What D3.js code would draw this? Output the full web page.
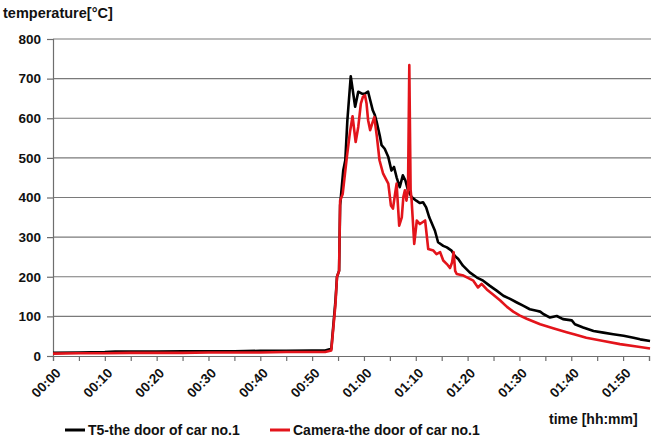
<!DOCTYPE html>
<html>
<head>
<meta charset="utf-8">
<script src="https://cdn.jsdelivr.net/npm/d3@7"></script>
<style>
  body { margin: 0; background: #fff; }
  svg { display: block; font-family: "Liberation Sans", Arial, sans-serif; font-weight: bold; }
</style>
</head>
<body>
<div id="chart"></div>
<script>
//svg dims
var width = 651;
var height = 437;
var margin = { left: 53, right: 0, top: 39, bottom: 82 };

//time axis: minutes and labels
var tickMinutes = [0, 5, 10, 15, 20, 25, 30, 35, 40, 45, 50, 55, 60, 65, 70, 75, 80, 85, 90, 95, 100, 105, 110, 115];
var tickLabels = ["00:00", "00:10", "00:20", "00:30", "00:40", "00:50", "01:00", "01:10", "01:20", "01:30", "01:40", "01:50"];
var yTicks = [0, 100, 200, 300, 400, 500, 600, 700, 800];

//T5 thermocouple - minutes / temperature
var t5Time = [0, 5, 10, 12, 15, 20, 25, 30, 35, 40, 45, 50, 52.5, 53.7, 54.5, 54.8, 55.2, 55.4, 56.0, 56.4, 56.8, 57.45,
  58.3, 58.9, 59.6, 60.2, 60.8, 61.2, 61.7, 62.1, 62.45, 63.1, 63.4, 64.0, 64.7, 65.3, 65.8, 66.3, 66.9, 67.5, 68.0,
  68.5, 69.2, 70.1, 70.8, 71.4, 72.0, 72.6, 73.7, 74.3, 75.3, 76.0, 76.9, 77.5, 78.2, 79.1, 80.4, 81.8, 83.0, 84.3,
  85.6, 86.9, 88.2, 89.5, 90.7, 92.0, 93.3, 94.0, 94.6, 95.9, 97.2, 98.4, 100.1, 100.7, 102.3, 104.3, 106.2, 108.1,
  110.1, 112.0, 113.3, 115.2];
var t5Temp = [8, 9, 10, 11, 11, 11, 12, 12, 12, 13, 13, 14, 14, 18, 139, 200, 215, 380, 468, 494, 595, 706,
  629, 667, 662, 662, 667, 646, 620, 608, 591, 553, 532, 523, 502, 468, 477, 451, 426, 456, 443,
  418, 401, 392, 386, 388, 375, 350, 316, 287, 278, 274, 266, 253, 245, 228, 211, 198, 190, 177,
  165, 152, 144, 135, 127, 118, 114, 112, 106, 97, 101, 93, 90, 80, 72, 63, 59, 55,
  51, 46, 42, 38];

//thermal camera - minutes / temperature
var camTime = [0, 5, 10, 15, 20, 25, 30, 35, 40, 45, 50, 52.5, 53.7, 54.5, 54.8, 55.2, 55.4, 55.9, 56.7, 57.3, 57.8,
  58.4, 58.9, 59.4, 59.8, 60.2, 60.5, 60.8, 61.2, 61.6, 62.0, 62.5, 63.0, 63.7, 64.7, 65.2, 65.6, 66.0, 66.3, 66.8,
  67.3, 67.6, 67.9, 68.2, 68.5, 68.75, 69.0, 69.2, 69.7, 70.2, 70.8, 71.8, 72.4, 73.4, 74.0, 74.7, 75.3, 76.0, 76.6,
  77.0, 77.3, 77.6, 77.9, 79.2, 81.1, 82.0, 82.7, 83.7, 84.9, 86.3, 87.6, 88.8, 90.1, 91.4, 92.7, 94.0, 96.5, 99.1,
  100.7, 102.9, 106.2, 109.4, 112.6, 115.2];
var camTemp = [6, 7, 7, 8, 8, 8, 9, 9, 9, 10, 10, 10, 14, 130, 200, 215, 392, 409, 502, 565, 605,
  540, 578, 637, 654, 658, 637, 595, 570, 587, 603, 553, 494, 460, 435, 380, 372, 409, 435, 329,
  350, 401, 418, 392, 420, 734, 420, 392, 283, 342, 333, 342, 270, 266, 257, 262, 241, 232, 222,
  236, 262, 215, 207, 203, 190, 173, 182, 168, 155, 140, 124, 112, 102, 94, 87, 80, 70, 60,
  54, 46, 38, 30, 24, 19];

var series = [
  { name: "T5-the door of car no.1", color: "#000000", time: t5Time, temp: t5Temp },
  { name: "Camera-the door of car no.1", color: "#e3141b", time: camTime, temp: camTemp }
];

var svg = d3.select("#chart")
            .append("svg")
            .attr("width", width)
            .attr("height", height);

var xScale = d3.scaleLinear()
               .domain([0, 115])
               .range([margin.left, 649]);
var yScale = d3.scaleLinear()
               .domain([0, 800])
               .range([height - margin.bottom + 1, margin.top]);

//horizontal gridlines
svg.append("g")
   .selectAll("line")
   .data(yTicks.slice(1))
   .enter()
   .append("line")
   .attr("x1", margin.left)
   .attr("x2", width)
   .attr("y1", d => yScale(d))
   .attr("y2", d => yScale(d))
   .attr("stroke", "#7a7a7a")
   .attr("stroke-width", 1.2);

//y axis
var yAxis = d3.axisLeft(yScale)
              .tickValues(yTicks)
              .tickSize(6)
              .tickPadding(6);
var gy = svg.append("g")
            .attr("transform", `translate(${margin.left}, 0)`)
            .call(yAxis);
gy.select(".domain").attr("stroke", "#6e6e6e").attr("stroke-width", 1.2);
gy.selectAll(".tick line").attr("stroke", "#6e6e6e").attr("stroke-width", 1.2);
gy.selectAll(".tick text")
  .attr("fill", "#111")
  .style("font-size", "13.5px")
  .style("font-weight", "bold");

//x axis, ticks every 5 minutes, labels every 10
var xAxis = d3.axisBottom(xScale)
              .tickValues(tickMinutes)
              .tickSize(5)
              .tickFormat(d => d % 10 === 0 ? tickLabels[d / 10] : "");
var gx = svg.append("g")
            .attr("transform", `translate(0, ${yScale(0)})`)
            .call(xAxis);
gx.select(".domain").attr("stroke", "#6e6e6e").attr("stroke-width", 1.2);
gx.selectAll(".tick line").attr("stroke", "#6e6e6e").attr("stroke-width", 1.2);
gx.selectAll(".tick text")
  .attr("fill", "#111")
  .attr("text-anchor", "end")
  .attr("dy", null)
  .attr("y", 0)
  .attr("transform", "translate(8, 18) rotate(-45)")
  .style("font-size", "13.5px")
  .style("font-weight", "bold");

//temperature lines
var line = d3.line()
             .x(d => xScale(d[0]))
             .y(d => yScale(d[1]));
svg.append("g")
   .selectAll("path")
   .data(series)
   .enter()
   .append("path")
   .attr("d", s => line(s.time.map((t, i) => [t, s.temp[i]])))
   .attr("fill", "none")
   .attr("stroke", s => s.color)
   .attr("stroke-width", 2.6)
   .attr("stroke-linejoin", "round");

//axis titles
svg.append("text")
   .attr("x", 3)
   .attr("y", 18)
   .style("font-size", "14.5px")
   .attr("fill", "#111")
   .text("temperature[°C]");
svg.append("text")
   .attr("x", 549)
   .attr("y", 424)
   .style("font-size", "14px")
   .attr("fill", "#111")
   .text("time [hh:mm]");

//legend
var legendX = [65, 270];
var legend = svg.append("g");
legend.selectAll("line")
      .data(series)
      .enter()
      .append("line")
      .attr("x1", (d, i) => legendX[i])
      .attr("x2", (d, i) => legendX[i] + 20)
      .attr("y1", 430)
      .attr("y2", 430)
      .attr("stroke", d => d.color)
      .attr("stroke-width", 3);
legend.selectAll("text")
      .data(series)
      .enter()
      .append("text")
      .attr("x", (d, i) => legendX[i] + 23)
      .attr("y", 435)
      .style("font-size", "14px")
      .attr("fill", "#111")
      .text(d => d.name);
</script>
</body>
</html>
